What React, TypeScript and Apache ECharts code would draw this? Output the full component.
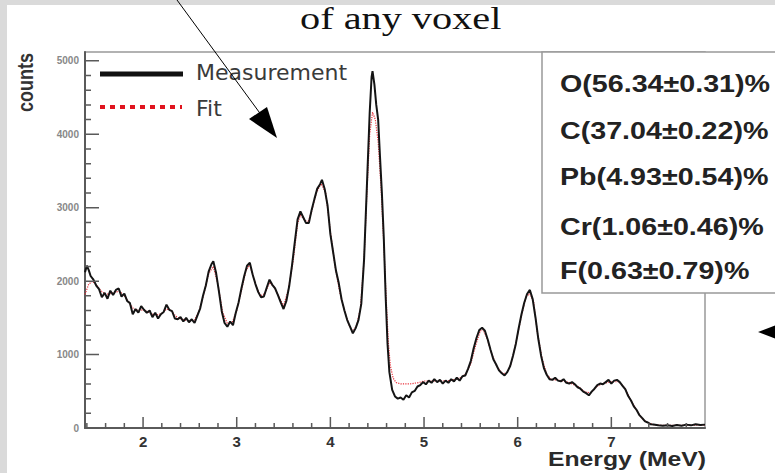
import React, { useEffect, useRef } from "react";
import * as echarts from "echarts";

// Measured gamma spectrum: [energy (MeV), counts]
const measured: [number, number][] = [
  [1.38, 2120], [1.4, 2210], [1.42, 2150], [1.44, 2070], [1.47, 2020], [1.5, 1940], [1.53, 1890],
  [1.56, 1780], [1.59, 1840], [1.62, 1760], [1.65, 1870], [1.68, 1810], [1.71, 1880],
  [1.74, 1900], [1.77, 1790], [1.8, 1830], [1.83, 1730], [1.86, 1700], [1.89, 1550],
  [1.92, 1620], [1.95, 1570], [1.98, 1660], [2.01, 1610], [2.04, 1570], [2.07, 1600],
  [2.1, 1510], [2.13, 1570], [2.16, 1490], [2.19, 1550], [2.22, 1580], [2.25, 1680],
  [2.28, 1610], [2.31, 1590], [2.34, 1490], [2.37, 1480], [2.4, 1510], [2.43, 1450],
  [2.46, 1500], [2.49, 1440], [2.52, 1480], [2.55, 1430], [2.58, 1530], [2.61, 1630],
  [2.64, 1800], [2.67, 1940], [2.7, 2130], [2.73, 2230], [2.75, 2270], [2.78, 2110],
  [2.81, 1860], [2.84, 1590], [2.87, 1430], [2.9, 1380], [2.93, 1450], [2.96, 1400],
  [2.99, 1570], [3.02, 1710], [3.05, 1900], [3.08, 2070], [3.11, 2210], [3.14, 2250],
  [3.17, 2090], [3.2, 1960], [3.23, 1850], [3.26, 1780], [3.29, 1790], [3.32, 1910],
  [3.35, 2020], [3.38, 1950], [3.41, 1900], [3.44, 1810], [3.47, 1710], [3.5, 1620],
  [3.53, 1730], [3.56, 1930], [3.59, 2210], [3.62, 2530], [3.65, 2840], [3.68, 2950],
  [3.71, 2870], [3.74, 2790], [3.77, 2790], [3.8, 2970], [3.83, 3120], [3.86, 3260],
  [3.89, 3320], [3.91, 3380], [3.94, 3250], [3.97, 3030], [4.0, 2640], [4.03, 2390],
  [4.06, 2140], [4.09, 1970], [4.12, 1750], [4.15, 1600], [4.18, 1470], [4.21, 1380],
  [4.24, 1290], [4.27, 1360], [4.3, 1470], [4.33, 1690], [4.36, 2300], [4.39, 3300],
  [4.42, 4300], [4.44, 4780], [4.45, 4860], [4.47, 4680], [4.49, 4400], [4.51, 4200],
  [4.53, 3690], [4.55, 3200], [4.57, 2600], [4.59, 1800], [4.61, 1150], [4.63, 760],
  [4.66, 520], [4.69, 430], [4.72, 400], [4.75, 415], [4.78, 385], [4.81, 445],
  [4.84, 415], [4.87, 485], [4.9, 505], [4.93, 565], [4.96, 585], [4.99, 625],
  [5.02, 595], [5.05, 645], [5.08, 615], [5.11, 665], [5.14, 625], [5.17, 655],
  [5.2, 605], [5.23, 645], [5.26, 615], [5.29, 665], [5.32, 635], [5.35, 685],
  [5.38, 645], [5.41, 705], [5.44, 715], [5.47, 805], [5.5, 915], [5.53, 1085],
  [5.56, 1225], [5.59, 1335], [5.62, 1365], [5.65, 1325], [5.68, 1205], [5.71, 1065],
  [5.74, 935], [5.77, 865], [5.8, 785], [5.83, 745], [5.86, 715], [5.89, 765],
  [5.92, 845], [5.95, 985], [5.98, 1145], [6.01, 1355], [6.04, 1545], [6.07, 1705],
  [6.1, 1825], [6.13, 1880], [6.16, 1755], [6.19, 1505], [6.22, 1215], [6.25, 985],
  [6.28, 815], [6.31, 725], [6.34, 665], [6.37, 655], [6.4, 685], [6.43, 645],
  [6.46, 635], [6.49, 665], [6.52, 615], [6.55, 605], [6.58, 625], [6.61, 595],
  [6.64, 555], [6.67, 535], [6.7, 495], [6.73, 475], [6.76, 445], [6.79, 495],
  [6.82, 535], [6.85, 585], [6.88, 605], [6.91, 595], [6.94, 625], [6.97, 655],
  [7.0, 605], [7.03, 645], [7.06, 655], [7.09, 625], [7.12, 575], [7.15, 525],
  [7.18, 435], [7.21, 375], [7.24, 295], [7.27, 245], [7.3, 175], [7.33, 135],
  [7.36, 90], [7.39, 75], [7.42, 50], [7.45, 48], [7.5, 36], [7.55, 30],
  [7.6, 38], [7.65, 26], [7.7, 42], [7.75, 30], [7.8, 46], [7.85, 36],
  [7.9, 52], [7.95, 40], [8.0, 46],
];

// Fitted spectrum: [energy (MeV), counts]
const fit: [number, number][] = [
  [1.38, 1820], [1.42, 1960], [1.46, 2000], [1.5, 1950], [1.55, 1870], [1.6, 1820],
  [1.65, 1830], [1.7, 1850], [1.75, 1860], [1.8, 1800], [1.85, 1710], [1.9, 1620],
  [1.95, 1600], [2.0, 1610], [2.05, 1580], [2.1, 1550], [2.15, 1540], [2.2, 1560],
  [2.25, 1620], [2.3, 1600], [2.35, 1520], [2.4, 1490], [2.45, 1470], [2.5, 1460],
  [2.55, 1470], [2.6, 1600], [2.65, 1830], [2.7, 2100], [2.75, 2200], [2.8, 1950],
  [2.85, 1580], [2.9, 1420], [2.95, 1430], [3.0, 1600], [3.05, 1870], [3.1, 2150],
  [3.14, 2220], [3.2, 1960], [3.25, 1800], [3.3, 1830], [3.35, 1980], [3.4, 1920],
  [3.45, 1790], [3.5, 1660], [3.55, 1880], [3.6, 2250], [3.65, 2780], [3.68, 2900],
  [3.72, 2840], [3.76, 2800], [3.8, 2950], [3.85, 3200], [3.9, 3330], [3.95, 3200],
  [4.0, 2680], [4.05, 2200], [4.1, 1850], [4.15, 1600], [4.2, 1400], [4.24, 1310],
  [4.28, 1400], [4.32, 1620], [4.36, 2300], [4.39, 3200], [4.42, 4000], [4.45, 4300],
  [4.48, 4200], [4.51, 3900], [4.54, 3300], [4.57, 2500], [4.6, 1650], [4.62, 1150],
  [4.64, 850], [4.67, 680], [4.7, 620], [4.75, 600], [4.8, 600], [4.85, 600],
  [4.9, 610], [4.95, 620], [5.0, 640], [5.1, 640], [5.2, 640], [5.3, 650],
  [5.4, 690], [5.45, 740], [5.5, 880], [5.55, 1120], [5.6, 1320], [5.63, 1340],
  [5.67, 1230], [5.72, 1020], [5.78, 830], [5.84, 740], [5.88, 750], [5.93, 880],
  [5.98, 1150], [6.04, 1530], [6.09, 1790], [6.13, 1830], [6.17, 1720], [6.21, 1300],
  [6.26, 950], [6.31, 730], [6.36, 660], [6.45, 650], [6.55, 620], [6.65, 560],
  [6.72, 490], [6.78, 480], [6.85, 570], [6.92, 610], [7.0, 630], [7.08, 630],
  [7.14, 550], [7.2, 400], [7.26, 260], [7.32, 140], [7.38, 75], [7.45, 45],
  [7.55, 35], [7.7, 35], [7.85, 40], [8.0, 40],
];

const xMajorTicks = [2, 3, 4, 5, 6, 7];
const xMinorTicks = [
  1.4, 1.6, 1.8, 2.2, 2.4, 2.6, 2.8, 3.2, 3.4, 3.6, 3.8, 4.2, 4.4, 4.6, 4.8,
  5.2, 5.4, 5.6, 5.8, 6.2, 6.4, 6.6, 6.8, 7.2, 7.4, 7.6, 7.8,
];
const yMajorTicks = [0, 1000, 2000, 3000, 4000, 5000];
const yMinorTicks = [
  200, 400, 600, 800, 1200, 1400, 1600, 1800, 2200, 2400, 2600, 2800,
  3200, 3400, 3600, 3800, 4200, 4400, 4600, 4800,
];

const legendLabels = ["Measurement", "Fit"];
const fractions = [
  "O(56.34±0.31)%",
  "C(37.04±0.22)%",
  "Pb(4.93±0.54)%",
  "Cr(1.06±0.46)%",
  "F(0.63±0.79)%",
];
const fractionRows = [84, 131, 177, 227, 271];

const X_MIN = 1.38;
const X_MAX = 8.0;
const Y_MAX = 5120;

const GRID = { left: 85, top: 52, width: 620, height: 376 };

const AXIS_GREY = "#5a5a5a";
const SANS = "Liberation Sans";

// Tick lengths in pixels, turned into data units of the perpendicular axis.
const countsPerPx = Y_MAX / GRID.height;
const mevPerPx = (X_MAX - X_MIN) / GRID.width;

// Short vertical strokes rising from the energy axis, separated by gaps.
function xTickData(values: number[], lenPx: number) {
  const out: any[] = [];
  values.forEach((v) => {
    out.push([v, 0], [v, lenPx * countsPerPx], [v, "-"]);
  });
  return out;
}

// Short horizontal strokes running right from the counts axis.
function yTickData(values: number[], lenPx: number) {
  const out: any[] = [];
  values.forEach((v) => {
    out.push([X_MIN, v], [X_MIN + lenPx * mevPerPx, v], ["-", v]);
  });
  return out;
}

function tickSeries(name: string, data: any[]) {
  return {
    name,
    type: "line",
    data,
    showSymbol: false,
    silent: true,
    clip: false,
    connectNulls: false,
    lineStyle: { color: AXIS_GREY, width: 1.5 },
    z: 4,
  };
}

// Static decorations: frame strips, heading, composition box, legend, titles, arrows.
function decorations(): any[] {
  return [
    { type: "rect", shape: { x: 0, y: 0, width: 7, height: 473 }, style: { fill: "#dadada" }, z: 1 },
    { type: "rect", shape: { x: 0, y: 0, width: 775, height: 5 }, style: { fill: "#dadada" }, z: 1 },
    {
      type: "text",
      x: 300,
      y: 19,
      scaleX: 1.3,
      style: {
        text: "of any voxel",
        font: "31px 'Liberation Serif', serif",
        fill: "#111",
        textAlign: "left",
        textVerticalAlign: "middle",
      },
      z: 20,
    },
    {
      type: "rect",
      shape: { x: 542, y: 52, width: 260, height: 241 },
      style: { fill: "#fff", stroke: "#999", lineWidth: 1.5 },
      z: 10,
    },
    ...fractions.map((t, i) => ({
      type: "text",
      x: 560,
      y: fractionRows[i],
      scaleX: 1.22,
      style: {
        text: t,
        font: `bold 23.5px '${SANS}', sans-serif`,
        fill: "#222",
        textAlign: "left",
        textVerticalAlign: "middle",
      },
      z: 11,
    })),
    { type: "line", shape: { x1: 100, y1: 74, x2: 183, y2: 74 }, style: { stroke: "#111", lineWidth: 5 }, z: 12 },
    {
      type: "line",
      shape: { x1: 100, y1: 107, x2: 182, y2: 107 },
      style: { stroke: "#e0141e", lineWidth: 4, lineDash: [5, 5] },
      z: 12,
    },
    ...legendLabels.map((t, i) => ({
      type: "text",
      x: 196,
      y: i === 0 ? 72 : 108,
      style: {
        text: t,
        font: "22px 'DejaVu Sans', sans-serif",
        fill: "#3a3a3a",
        textAlign: "left",
        textVerticalAlign: "middle",
      },
      z: 12,
    })),
    {
      type: "text",
      x: 25,
      y: 53,
      rotation: Math.PI / 2,
      scaleY: 1.25,
      style: {
        text: "counts",
        font: `bold 18px '${SANS}', sans-serif`,
        fill: "#333",
        textAlign: "right",
        textVerticalAlign: "middle",
      },
      z: 12,
    },
    {
      type: "text",
      x: 706,
      y: 459,
      scaleX: 1.27,
      style: {
        text: "Energy (MeV)",
        font: `bold 19.5px '${SANS}', sans-serif`,
        fill: "#2a2a2a",
        textAlign: "right",
        textVerticalAlign: "middle",
      },
      z: 12,
    },
    { type: "line", shape: { x1: 177, y1: 0, x2: 262, y2: 116 }, style: { stroke: "#000", lineWidth: 1 }, z: 20 },
    {
      type: "polygon",
      shape: { points: [[277, 138], [249, 119], [267, 107]] },
      style: { fill: "#000" },
      z: 20,
    },
    {
      type: "polygon",
      shape: { points: [[758, 332], [792, 319], [792, 345]] },
      style: { fill: "#000" },
      z: 20,
    },
  ];
}

export default function App() {
  const ref = useRef<HTMLDivElement>(null);

  useEffect(() => {
    if (!ref.current) return;
    const chart = echarts.init(ref.current, undefined, { renderer: "svg" });

    chart.setOption({
      animation: false,
      grid: {
        ...GRID,
        show: true,
        borderColor: "#999",
        borderWidth: 1.5,
      },
      xAxis: {
        type: "value",
        min: X_MIN,
        max: X_MAX,
        axisLine: { show: true, lineStyle: { color: AXIS_GREY, width: 2 } },
        axisTick: { show: false },
        axisLabel: {
          customValues: xMajorTicks,
          margin: 6,
          fontSize: 15,
          fontWeight: "bold",
          fontFamily: SANS,
          color: "#333",
        },
        splitLine: { show: false },
      },
      yAxis: {
        type: "value",
        min: 0,
        max: Y_MAX,
        axisLine: { show: true, lineStyle: { color: AXIS_GREY, width: 2 } },
        axisTick: { show: false },
        axisLabel: {
          customValues: yMajorTicks,
          formatter: (v: number) => String(v),
          margin: 6,
          fontSize: 10,
          fontWeight: "bold",
          fontFamily: SANS,
          color: "#888",
        },
        splitLine: { show: false },
      },
      series: [
        {
          name: "Fit",
          type: "line",
          data: fit,
          showSymbol: false,
          lineStyle: { color: "#e8303a", width: 1.2, type: "dotted" },
          z: 2,
        },
        {
          name: "Measurement",
          type: "line",
          data: measured,
          showSymbol: false,
          lineStyle: { color: "#141414", width: 2 },
          z: 3,
        },
        tickSeries("x major ticks", xTickData(xMajorTicks, 11)),
        tickSeries("x minor ticks", xTickData(xMinorTicks, 5)),
        tickSeries("y major ticks", yTickData(yMajorTicks, 14)),
        tickSeries("y minor ticks", yTickData(yMinorTicks, 6)),
      ],
      graphic: decorations(),
    });

    return () => chart.dispose();
  }, []);

  return (
    <div
      ref={ref}
      style={{ position: "fixed", left: 0, top: 0, width: 775, height: 473, background: "#fff" }}
    />
  );
}
